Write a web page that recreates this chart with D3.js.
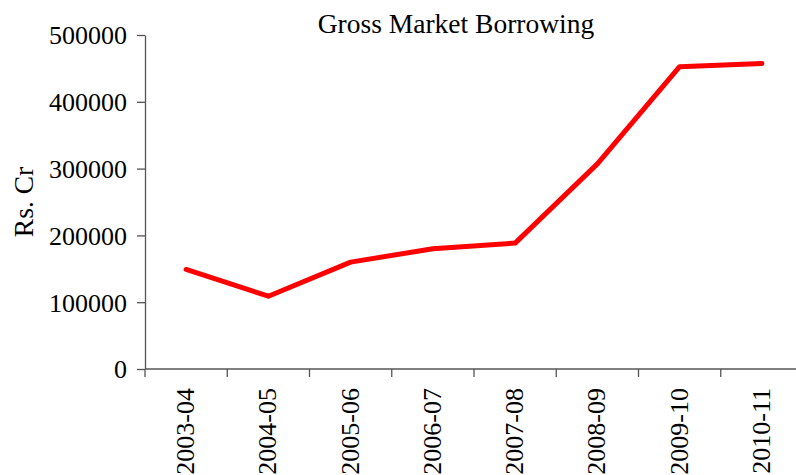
<!DOCTYPE html>
<html>
<head>
<meta charset="utf-8">
<script src="https://cdn.jsdelivr.net/npm/d3@7"></script>
<style>
  body { margin: 0; background: #fff; }
  svg { display: block; font-family: "Liberation Serif", "Times New Roman", serif; }
  .axis text { font-size: 26px; fill: #000; font-family: "Liberation Serif", serif; }
  .axis path, .axis line { stroke: #555; stroke-width: 1.3; }
</style>
</head>
<body>
<svg id="chart"></svg>
<script>
// Gross Market Borrowing, Rs. Cr
var years = ["2003-04", "2004-05", "2005-06", "2006-07", "2007-08", "2008-09", "2009-10", "2010-11"];
var borrowing = [149000, 109000, 160000, 180000, 188500, 307000, 452500, 457500];
var yTicks = [0, 100000, 200000, 300000, 400000, 500000];

var w = 796, h = 475;
var mLeft = 145, mRight = 803, mTop = 35, mBottom = 369;

var svg = d3.select("#chart").attr("width", w).attr("height", h);

var xScale = d3.scaleBand().domain(years).range([mLeft, mRight]);
var yScale = d3.scaleLinear().domain([0, 500000]).range([mBottom, mTop]);

// y axis
svg.append("g")
  .attr("class", "axis")
  .attr("transform", "translate(" + mLeft + ",0)")
  .call(d3.axisLeft(yScale).tickValues(yTicks).tickFormat(d3.format("d")).tickSize(8).tickSizeOuter(0).tickPadding(10))
  .selectAll("text").attr("dy", "0.34em");

// x axis with ticks at band edges
var xAxis = svg.append("g")
  .attr("class", "axis")
  .attr("transform", "translate(0," + mBottom + ")");
xAxis.append("line")
  .attr("x1", mLeft).attr("x2", mRight).attr("y1", 0).attr("y2", 0);
xAxis.selectAll("line.tick")
  .data(years)
  .enter().append("line")
  .attr("class", "tick")
  .attr("x1", function (d) { return xScale(d); })
  .attr("x2", function (d) { return xScale(d); })
  .attr("y1", 0).attr("y2", 8);
xAxis.selectAll("text")
  .data(years)
  .enter().append("text")
  .attr("transform", function (d) {
    return "translate(" + (xScale(d) + xScale.bandwidth() / 2 - 1) + ",19) rotate(-90)";
  })
  .attr("text-anchor", "end")
  .attr("dy", "0.35em")
  .text(function (d) { return d; });

// line
var line = d3.line()
  .x(function (d, i) { return xScale(years[i]) + xScale.bandwidth() / 2; })
  .y(function (d) { return yScale(d); });

svg.append("path")
  .datum(borrowing)
  .attr("d", line)
  .attr("fill", "none")
  .attr("stroke", "#ff0000")
  .attr("stroke-width", 5)
  .attr("stroke-linejoin", "round")
  .attr("stroke-linecap", "round");

// title
svg.append("text")
  .attr("x", 456).attr("y", 33)
  .attr("text-anchor", "middle")
  .style("font-size", "27.5px")
  .text("Gross Market Borrowing");

// y label
svg.append("text")
  .attr("transform", "translate(33,202) rotate(-90)")
  .attr("text-anchor", "middle")
  .style("font-size", "27.5px")
  .text("Rs. Cr");
</script>
</body>
</html>
